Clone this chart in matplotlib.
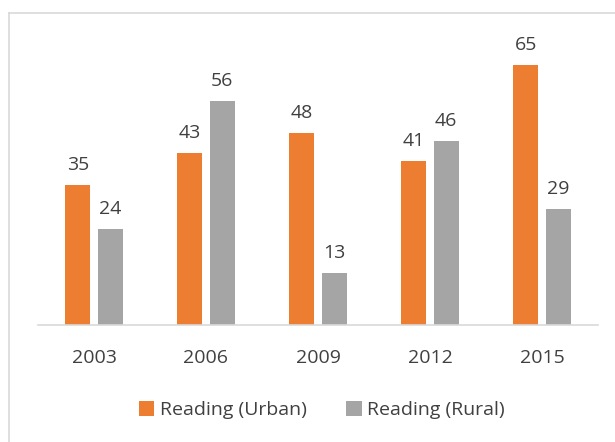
import matplotlib
matplotlib.use("Agg")
import matplotlib.pyplot as plt
import numpy as np
from matplotlib.lines import Line2D

years = ["2003", "2006", "2009", "2012", "2015"]
urban = [35, 43, 48, 41, 65]
rural = [24, 56, 13, 46, 29]
series_names = ["Reading (Urban)", "Reading (Rural)"]

plt.rcParams['font.family'] = ['Open Sans', 'DejaVu Sans']
W, H = 615, 442
fig = plt.figure(figsize=(W/100, H/100), dpi=100)
ax = fig.add_axes([38/W, (H-325)/H, 560/W, 280/H])

x = np.arange(len(years))
bw = 0.225
off = 0.145
orange = "#ED7D31"
grey = "#A5A5A5"
txt = "#404040"
fs = 14
b1 = ax.bar(x - off, urban, bw, color=orange, label=series_names[0])
b2 = ax.bar(x + off, rural, bw, color=grey, label=series_names[1])
for bars, vals in ((b1, urban), (b2, rural)):
    for b, v in zip(bars, vals):
        ax.annotate(str(v), (b.get_x() + b.get_width()/2, v), xytext=(0, 8),
                    textcoords="offset points", ha="center", va="bottom",
                    fontsize=fs, color=txt)

ax.set_xlim(-0.5, len(years) - 0.5)
ax.set_ylim(0, 70)
ax.set_xticks(x)
ax.set_xticklabels(years, fontsize=fs, color=txt)
ax.tick_params(axis='x', length=0, pad=17)
ax.set_yticks([])
for s in ("top", "right", "left"):
    ax.spines[s].set_visible(False)
ax.spines["bottom"].set_color("#D9D9D9")
ax.spines["bottom"].set_linewidth(1.2)

leg = fig.legend(handles=[b1, b2], loc="center", bbox_to_anchor=(322/W, 1 - 410/H),
                 ncol=2, frameon=False, fontsize=fs, handlelength=0.8, handleheight=0.8,
                 handletextpad=0.3, columnspacing=2.0)
for t in leg.get_texts():
    t.set_color(txt)

fig.add_artist(Line2D([9/W, 9/W], [0, 1 - 13/H], transform=fig.transFigure, color="#D9D9D9", lw=1.2))
fig.add_artist(Line2D([9/W, 1], [1 - 13/H, 1 - 13/H], transform=fig.transFigure, color="#D9D9D9", lw=1.2))

fig.savefig("out.png", dpi=100)
